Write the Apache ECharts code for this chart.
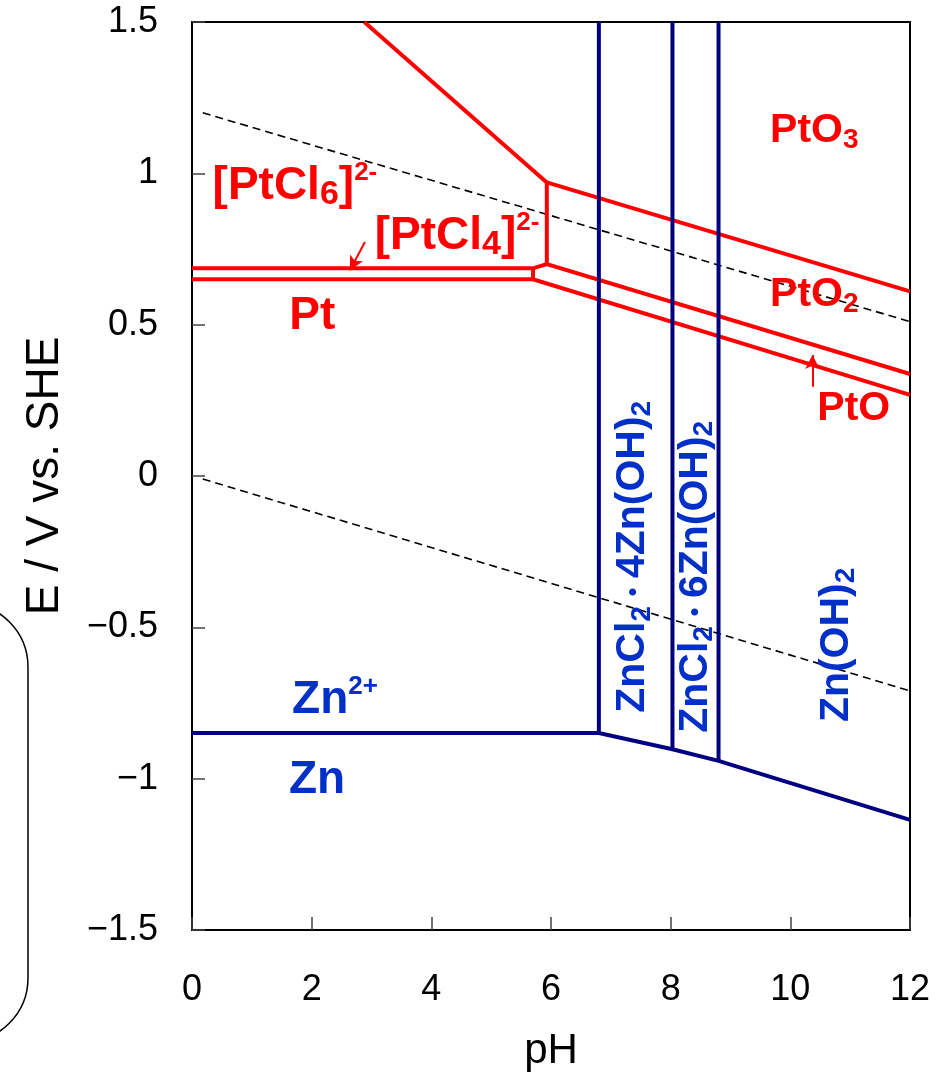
<!DOCTYPE html>
<html lang="en">
<head>
<meta charset="utf-8" />
<title>Pt / Zn potential-pH diagram</title>
<script src="https://cdn.jsdelivr.net/npm/echarts@6/dist/echarts.min.js"></script>
<style>
    html, body { margin: 0; padding: 0; background: #fff; }
    #chartmain { width: 943px; height: 1077px; }
</style>
</head>
<body>
<div id="chartmain"></div>
<script>
// axis ranges
var pHRange = [0, 12], pHStep = 2;
var eRange = [-1.5, 1.5], eStep = 0.5;

// Pt boundaries, [pH, E]
var ptCl6PtO3 = [[2.88, 1.5], [5.93, 0.97]];
var ptO3PtO2 = [[5.93, 0.97], [12, 0.61]];
var ptCl6PtO2 = [[5.93, 0.97], [5.93, 0.70]];
var ptUpper = [[0, 0.686], [5.70, 0.686], [5.93, 0.70], [12, 0.337]];
var ptLower = [[0, 0.650], [5.70, 0.650], [12, 0.268]];
var ptCl4Edge = [[5.70, 0.686], [5.70, 0.650]];

// Zn boundaries
var znLower = [[0, -0.849], [6.8, -0.849], [8.03, -0.903], [8.8, -0.941], [12, -1.136]];
var znCl4Edge = [[6.8, -0.849], [6.8, 1.5]];
var znCl6Edge = [[8.03, -0.903], [8.03, 1.5]];
var znOHEdge = [[8.8, -0.941], [8.8, 1.5]];

// water lines (dashed)
var o2Line = [[0.18, 1.20], [12, 0.51]];
var h2Line = [[0.18, -0.01], [12, -0.71]];

// region labels
var ptLabelText = ['{m|PtO}{s|3}', '{m|PtO}{s|2}', '{m|PtO}',
    '{b|[PtCl}{bs|6}{b|]}{sp|2-}', '{b|[PtCl}{bs|4}{b|]}{sp|2-}', '{b|Pt}'];
var ptLabelPos = [[10.40, 1.14], [10.40, 0.598], [11.06, 0.221], [1.72, 0.958], [4.43, 0.793], [2.01, 0.529]];
var znLabelText = ['{b|Zn}{sp|2+}', '{b|Zn}',
    '{m|ZnCl}{s|2}{d|・}{m|4Zn(OH)}{s|2}', '{m|ZnCl}{s|2}{d|・}{m|6Zn(OH)}{s|2}', '{m|Zn(OH)}{s|2}'];
var znLabelPos = [[2.39, -0.740], [2.09, -1.004], [7.37, -0.267], [8.41, -0.333], [10.78, -0.558]];
var znLabelRot = [0, 0, 90, 90, 90];

// pointer arrows
var arrowPtCl4 = [[2.89, 0.773], [2.64, 0.68]];
var arrowPtO = [[10.37, 0.295], [10.37, 0.40]];

var FONT = '"Liberation Sans", Arial, sans-serif';
var RED = '#ff0000', NAVY = '#000080', BLUE = '#0030c8';

function richFor(color) {
    return {
        m: { fontFamily: FONT, fontSize: 41, fontWeight: 'bold', lineHeight: 46, color: color },
        s: { fontFamily: FONT, fontSize: 28, fontWeight: 'bold', lineHeight: 18, verticalAlign: 'bottom', color: color },
        b: { fontFamily: FONT, fontSize: 46, fontWeight: 'bold', lineHeight: 52, color: color },
        bs: { fontFamily: FONT, fontSize: 34, fontWeight: 'bold', lineHeight: 16, verticalAlign: 'bottom', color: color },
        sp: { fontFamily: FONT, fontSize: 26, fontWeight: 'bold', lineHeight: 36, verticalAlign: 'top', color: color },
        d: { fontFamily: '"Noto Sans CJK JP", sans-serif', fontSize: 28, fontWeight: 'bold', lineHeight: 46, color: color }
    };
}

function boundary(data, color, width, dash) {
    return {
        type: 'line', data: data, showSymbol: false, symbol: 'none', silent: true,
        lineStyle: { color: color, width: width, type: dash || 'solid', join: 'miter' },
        z: dash ? 3 : 4
    };
}

function labelSeries(texts, pos, rot, color) {
    return {
        type: 'scatter', symbolSize: 0, silent: true, z: 6,
        itemStyle: { opacity: 1, color: color },
        data: texts.map(function (t, i) {
            return { name: t, value: pos[i], label: { rotate: rot ? rot[i] : 0 } };
        }),
        label: {
            show: true, position: 'inside', formatter: function (p) { return p.name; },
            rich: richFor(color)
        }
    };
}

function arrowSeries(pairs) {
    return {
        type: 'line', data: [], silent: true,
        markLine: {
            silent: true, symbol: ['none', 'arrow'], symbolSize: [11, 14],
            label: { show: false },
            lineStyle: { color: RED, width: 2, type: 'solid', opacity: 1 },
            data: pairs.map(function (a) { return [{ coord: a[0] }, { coord: a[1] }]; })
        }
    };
}

var chart = echarts.init(document.getElementById('chartmain'), null, { renderer: 'canvas' });
chart.setOption({
    animation: false,
    backgroundColor: '#fff',
    grid: { left: 192, right: 33, top: 22, bottom: 147, show: true, borderColor: '#000', borderWidth: 2,
        containLabel: false, outerBoundsMode: 'none' },
    xAxis: {
        type: 'value', min: pHRange[0], max: pHRange[1], interval: pHStep,
        name: 'pH', nameLocation: 'middle', nameGap: 100,
        nameTextStyle: { fontFamily: FONT, fontSize: 42, color: '#000' },
        axisLine: { show: true, onZero: false, lineStyle: { color: '#000', width: 2 } },
        axisTick: { show: true, inside: true, length: 13, lineStyle: { color: '#444', width: 1.5 } },
        axisLabel: { fontFamily: FONT, fontSize: 36, color: '#000', margin: 42 },
        splitLine: { show: false }
    },
    yAxis: {
        type: 'value', min: eRange[0], max: eRange[1], interval: eStep,
        name: 'E / V vs. SHE', nameLocation: 'middle', nameGap: 124,
        nameTextStyle: { fontFamily: FONT, fontSize: 46, color: '#000' },
        axisLine: { show: true, onZero: false, lineStyle: { color: '#000', width: 2 } },
        axisTick: { show: true, inside: true, length: 13, lineStyle: { color: '#444', width: 1.5 } },
        axisLabel: {
            fontFamily: FONT, fontSize: 36, color: '#000', margin: 34,
            formatter: function (v) { return v < 0 ? '\u2212' + (-v) : String(v); }
        },
        splitLine: { show: false }
    },
    graphic: [{
        type: 'rect', silent: true,
        shape: { x: -100, y: 603, width: 128, height: 439, r: 65 },
        style: { fill: 'none', stroke: '#000', lineWidth: 1.5 }
    }],
    series: [
        boundary(o2Line, '#000', 1.6, [8, 5]),
        boundary(h2Line, '#000', 1.6, [8, 5]),
        boundary(ptCl6PtO3, RED, 4),
        boundary(ptO3PtO2, RED, 4),
        boundary(ptCl6PtO2, RED, 4),
        boundary(ptUpper, RED, 4),
        boundary(ptLower, RED, 4),
        boundary(ptCl4Edge, RED, 4),
        boundary(znLower, NAVY, 4),
        boundary(znCl4Edge, NAVY, 4),
        boundary(znCl6Edge, NAVY, 4),
        boundary(znOHEdge, NAVY, 4),
        arrowSeries([arrowPtCl4, arrowPtO]),
        labelSeries(ptLabelText, ptLabelPos, null, RED),
        labelSeries(znLabelText, znLabelPos, znLabelRot, BLUE)
    ]
});
</script>
</body>
</html>
